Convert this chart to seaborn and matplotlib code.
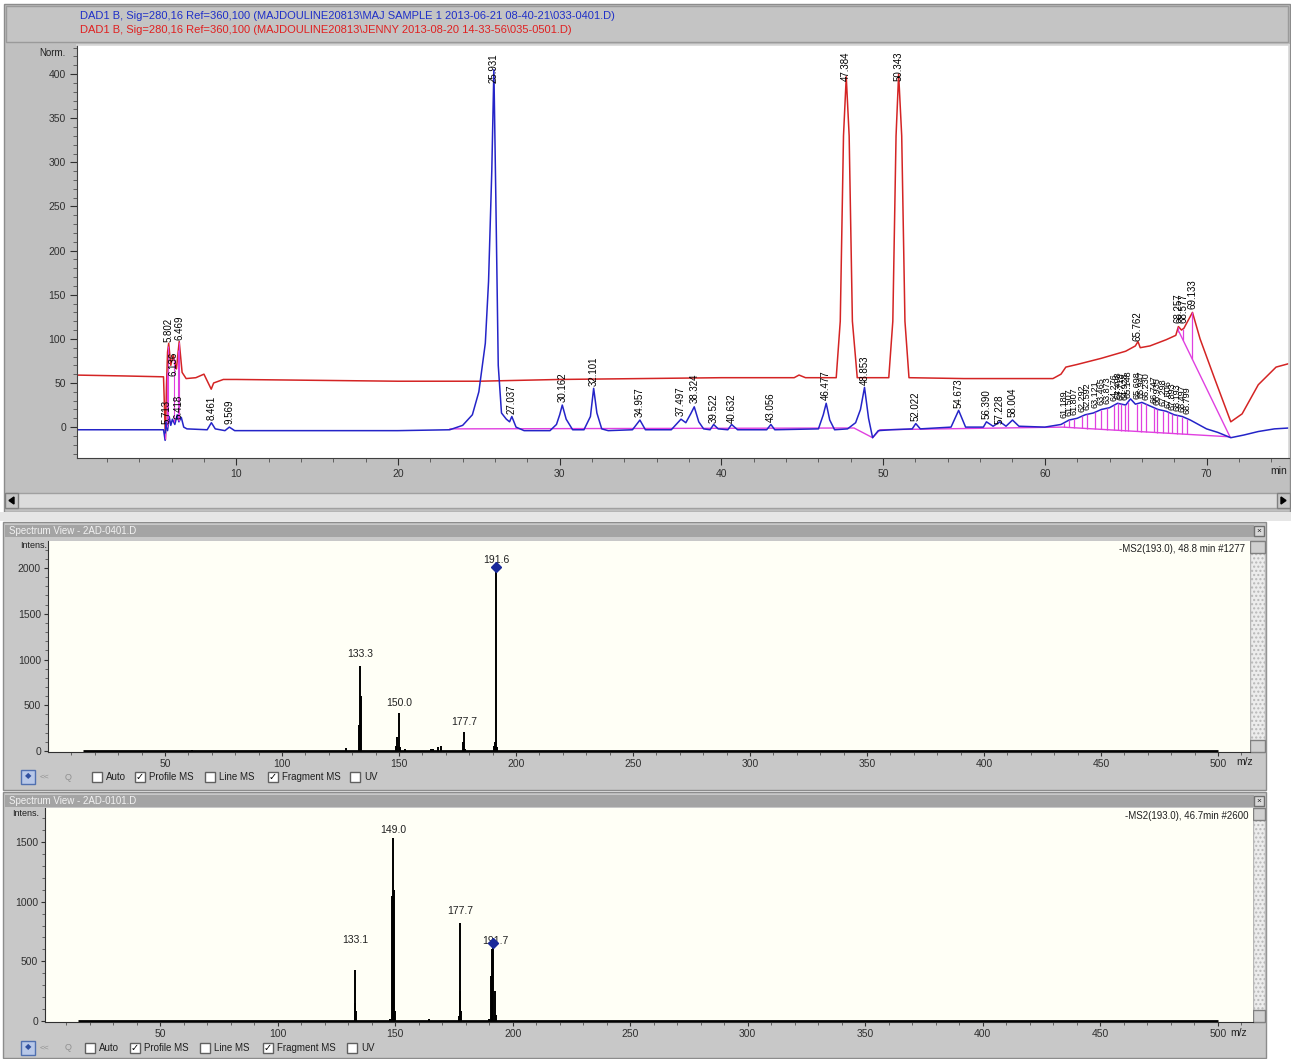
import matplotlib
matplotlib.use("Agg")
import matplotlib.pyplot as plt
import seaborn as sns
import numpy as np
from matplotlib.patches import Rectangle, Polygon

W, H = 1291, 1059

# ---------------- chromatogram (DAD1 B, 280 nm) ----------------
blue_t = [0.0, 5.5, 5.6, 5.65, 5.75, 5.85, 5.95, 6.05, 6.2, 6.35, 6.45, 6.6, 6.75, 6.95, 8.2, 8.46, 8.7,
          9.3, 9.57, 9.9, 15.0, 20.0, 23.2, 24.0, 24.6, 25.0, 25.4, 25.6, 25.8, 25.93, 26.05, 26.2, 26.4,
          26.7, 26.9, 27.04, 27.3, 27.8, 29.4, 29.8, 30.0, 30.16, 30.4, 30.8, 31.5, 31.9, 32.1, 32.3, 32.6,
          33.0, 34.5, 34.96, 35.3, 36.9, 37.2, 37.5, 37.8, 38.1, 38.32, 38.6, 38.9, 39.3, 39.52, 39.8, 40.4,
          40.63, 41.0, 42.8, 43.06, 43.3, 46.0, 46.3, 46.48, 46.7, 47.0, 47.8, 48.3, 48.6, 48.85, 49.1,
          49.35, 49.7, 50.5, 51.8, 52.02, 52.3, 54.2, 54.67, 55.1, 56.2, 56.39, 56.8, 57.23, 57.6, 58.0,
          58.4, 60.0, 61.0, 61.5, 62.0, 62.5, 63.0, 63.5, 64.0, 64.5, 65.0, 65.3, 65.6, 66.0, 66.5, 67.0,
          67.5, 68.0, 68.5, 69.0, 69.5, 70.0, 70.7, 71.5, 72.3, 73.2, 74.2, 75.1]
blue_v = [-3, -3, -15, 6, -4, 12, 2, 9, 3, 14, 6, 11, 0, -2, -3, 5, -2,
          -4, 0, -4, -4, -4, -3, 2, 14, 40, 95, 165, 290, 405, 260, 70, 16,
          9, 6, 12, 0, -4, -4, 3, 14, 25, 9, -3, -3, 12, 44, 16, -2,
          -4, -3, 8, -3, -3, 3, 9, 5, 15, 23, 6, -2, -3, 3, -2, -3,
          3, -3, -3, 3, -3, -2, 14, 27, 8, -3, -2, 5, 20, 45, 10,
          -12, -4, -3, -2, 4, -2, 0, 19, 0, 0, 6, 1, 6, 1, 8,
          1, 0, 3, 8, 10, 14, 16, 20, 22, 27, 25, 32, 26, 28, 24, 20,
          18, 14, 12, 8, 3, -2, -6, -12, -9, -5, -2, -1]

red_t = [0.0, 3.0, 5.5, 5.62, 5.68, 5.75, 5.82, 5.95, 6.1, 6.3, 6.47, 6.65, 6.9, 7.5, 8.0, 8.45, 8.6,
         9.2, 10.0, 15.0, 20.0, 25.0, 30.0, 35.0, 40.0, 44.5, 44.8, 45.2, 47.1, 47.35, 47.55, 47.72,
         47.9, 48.1, 48.4, 50.35, 50.6, 50.8, 50.96, 51.15, 51.35, 51.6, 55.0, 60.5, 61.0, 61.3, 62.0,
         63.5, 65.0, 65.6, 65.76, 65.9, 66.5, 67.5, 68.1, 68.26, 68.45, 68.6, 69.13, 69.6, 70.5, 71.5,
         72.2, 73.2, 74.3, 75.1]
red_v = [59, 58, 57, -14, 45, 85, 95, 70, 82, 66, 97, 62, 55, 56, 60, 43, 50,
         54, 54, 53, 52, 52, 54, 55, 56, 56, 59, 56, 56, 120, 330, 397,
         330, 120, 56, 56, 120, 330, 400, 330, 120, 56, 55, 55, 60, 68, 71,
         78, 86, 92, 97, 90, 92, 99, 104, 114, 110, 112, 130, 100, 55, 6,
         15, 48, 68, 72]

# integration baselines (magenta)
mag_t = [23.2, 48.2, 49.35, 49.8, 61.1, 71.45]
mag_v = [-2, -1, -12, -3, 0, -11]
mag2_t = [68.3, 71.45]
mag2_v = [108, -11]

# peak labels: retention time text, position, base of label
blue_lbl = ["5.713", "6.418", "8.461", "9.569", "27.037", "30.162", "32.101", "34.957", "37.497",
            "38.324", "39.522", "40.632", "43.056", "46.477", "48.853", "52.022", "54.673",
            "56.390", "57.228", "58.004"]
blue_lbl_t = [5.71, 6.42, 8.46, 9.57, 27.04, 30.16, 32.10, 34.96, 37.50, 38.32, 39.52, 40.63,
              43.06, 46.48, 48.85, 52.02, 54.67, 56.39, 57.23, 58.00]
blue_lbl_y = [3, 9, 8, 4, 15, 29, 47, 11, 13, 27, 5, 5, 6, 31, 48, 7, 22, 9, 4, 11]

top_lbl = ["25.931", "47.384", "50.343", "5.802", "6.469", "6.136", "65.762", "68.257", "68.577", "69.133"]
top_lbl_t = [25.93, 47.72, 50.96, 5.80, 6.47, 6.14, 65.76, 68.26, 68.55, 69.13]
top_lbl_y = [390, 392, 392, 96, 99, 58, 98, 118, 118, 134]

hump_t = [61.189, 61.507, 61.807, 62.292, 62.592, 63.121, 63.465, 63.873, 64.276, 64.498, 64.718,
          64.928, 65.148, 65.698, 65.947, 66.230, 66.747, 66.935, 67.298, 67.606, 67.893, 68.193,
          68.497, 68.799]

# ---------------- MS2 spectra ----------------
mz1 = [61.5, 127.5, 132.9, 133.3, 133.6, 148.6, 149.2, 150.0, 150.5, 152.5, 163.5, 164.5, 166.5,
       168.0, 177.4, 177.7, 178.2, 190.5, 191.0, 191.6, 192.1]
int1 = [10, 30, 280, 930, 600, 60, 150, 415, 40, 25, 20, 25, 50, 60, 100, 210, 25, 60, 100, 2015, 40]
lbl1 = ["133.3", "150.0", "177.7", "191.6"]
lbl1_mz = [133.3, 150.3, 177.7, 191.8]
lbl1_y = [1010, 470, 260, 2035]

mz2 = [132.8, 133.1, 133.4, 148.0, 148.6, 149.0, 149.4, 149.8, 164.5, 177.0, 177.4, 177.7, 178.1,
       189.8, 190.8, 191.3, 191.7, 192.3, 192.7]
int2 = [150, 430, 80, 20, 1050, 1530, 1100, 80, 15, 40, 250, 825, 80, 20, 380, 600, 650, 250, 50]
lbl2 = ["133.1", "149.0", "177.7", "191.7"]
lbl2_mz = [133.1, 149.0, 177.7, 192.5]
lbl2_y = [640, 1555, 880, 625]

sns.set_theme(style="white")
plt.rcParams["font.family"] = ["Liberation Sans", "DejaVu Sans"]

fig = plt.figure(figsize=(W / 100, H / 100), dpi=100, facecolor="white")


def box(x0, y0, x1, y1):
    return [x0 / W, 1 - y1 / H, (x1 - x0) / W, (y1 - y0) / H]


# background "window" chrome drawn in pixel coordinates
bg = fig.add_axes([0, 0, 1, 1], zorder=0)
bg.set_xlim(0, W)
bg.set_ylim(H, 0)
bg.axis("off")


def rect(x, y, w, h, fc, ec="none", lw=1, **kw):
    bg.add_patch(Rectangle((x, y), w, h, facecolor=fc, edgecolor=ec, lw=lw, **kw))


GRAY = "#c0c0c0"
rect(4, 4, 1286, 508, GRAY, "#8c8c8c")
rect(6, 6, 1282, 36, "#c4c4c4", "#9a9a9a")
bg.text(80, 16, "DAD1 B, Sig=280,16 Ref=360,100 (MAJDOULINE20813\\MAJ SAMPLE 1 2013-06-21 08-40-21\\033-0401.D)",
        color="#1f2fc8", fontsize=8, va="center")
bg.text(80, 30, "DAD1 B, Sig=280,16 Ref=360,100 (MAJDOULINE20813\\JENNY 2013-08-20 14-33-56\\035-0501.D)",
        color="#e02020", fontsize=8, va="center")
bg.text(66, 53, "Norm.", fontsize=7, ha="right", va="center", color="#202020")
bg.text(1270, 471, "min", fontsize=7.5, ha="left", va="center", color="#202020")

# horizontal scrollbar
rect(5, 493, 1285, 15, "#dcdcdc", "#a0a0a0")
for xb in (5, 1277):
    rect(xb, 493, 13, 15, "#c8c8c8", "#808080")
bg.add_patch(Polygon([[14, 497], [14, 504], [9, 500.5]], color="black"))
bg.add_patch(Polygon([[1281, 497], [1281, 504], [1286, 500.5]], color="black"))
rect(0, 512, W, 9, "#e6e6e6")

# spectrum panels
PANEL = "#c8c8c8"
for (y0, y1, title) in [(522, 790, "Spectrum View - 2AD-0401.D"), (792, 1058, "Spectrum View - 2AD-0101.D")]:
    rect(3, y0, 1263, y1 - y0, PANEL, "#8c8c8c")
    rect(5, y0 + 3, 1249, 12, "#a4a4a4")
    bg.text(9, y0 + 9, title, fontsize=7, color="#f2f2f2", va="center")
    rect(1254, y0 + 4, 10, 10, "#d8d8d8", "#707070")
    bg.text(1259, y0 + 9, "×", fontsize=6, ha="center", va="center")

# vertical scrollbars next to spectra
for (y0, y1, xs) in [(541, 752, 1250), (808, 1022, 1253)]:
    rect(xs, y0, 1265 - xs, y1 - y0, "#ececec", "#b8b8b8", hatch="....")
    rect(xs, y0, 1265 - xs, 12, "#d0d0d0", "#808080")
    rect(xs, y1 - 12, 1265 - xs, 12, "#d0d0d0", "#808080")

# toolbars with check boxes
for (yt, xs) in [(777, [92, 135, 205, 268, 350]), (1048, [85, 130, 200, 263, 347])]:
    rect(21, yt - 7, 14, 14, "#b8c8e8", "#5070b0")
    bg.text(28, yt, "\u25c6", fontsize=6, ha="center", va="center", color="#3050a0")
    bg.text(44, yt, "<<", fontsize=6, ha="center", va="center", color="#909090")
    bg.text(68, yt, "Q", fontsize=6.5, ha="center", va="center", color="#909090")
    names = ["Auto", "Profile MS", "Line MS", "Fragment MS", "UV"]
    checked = [False, True, False, True, False]
    for xc, nm, ck in zip(xs, names, checked):
        rect(xc, yt - 5, 10, 10, "white", "#606060")
        if ck:
            bg.text(xc + 5, yt, "\u2713", fontsize=7, ha="center", va="center", color="black")
        bg.text(xc + 14, yt, nm, fontsize=7, va="center", color="#202020")

# ---------------- top chromatogram axes ----------------
ax = fig.add_axes(box(77, 45, 1289, 458), zorder=2)
ax.set_facecolor("white")
sns.lineplot(x=mag_t, y=mag_v, ax=ax, color="#e040e0", lw=1, sort=False, estimator=None)
sns.lineplot(x=mag2_t, y=mag2_v, ax=ax, color="#e040e0", lw=1, sort=False, estimator=None)
sns.lineplot(x=red_t, y=red_v, ax=ax, color="#d42424", lw=1.1, sort=False, estimator=None)
sns.lineplot(x=blue_t, y=blue_v, ax=ax, color="#2424c8", lw=1.1, sort=False, estimator=None)

# drop lines of the integrated hump
hump_bot = np.interp(hump_t, mag_t[-2:], mag_v[-2:])
hump_top = np.interp(hump_t, blue_t, blue_v)
ax.vlines(hump_t, hump_bot, hump_top, color="#e040e0", lw=0.9)
red_drop_t = top_lbl_t[-3:]
ax.vlines(red_drop_t, np.interp(red_drop_t, mag2_t, mag2_v), np.interp(red_drop_t, red_t, red_v),
          color="#e040e0", lw=0.9)
early_t = [5.62, 5.71, 5.80, 6.14, 6.42, 6.47]
ax.vlines(early_t, np.interp(early_t, blue_t, blue_v), np.interp(early_t, red_t, red_v),
          color="#e040e0", lw=0.8)

for s, t, y in zip(blue_lbl, blue_lbl_t, blue_lbl_y):
    ax.text(t, y, s, rotation=90, ha="center", va="bottom", fontsize=7, color="black", clip_on=True)
for s, t, y in zip(top_lbl, top_lbl_t, top_lbl_y):
    ax.text(t, y, s, rotation=90, ha="center", va="bottom", fontsize=7, color="black", clip_on=True)
for t, y in zip(hump_t, hump_top):
    ax.text(t, y + 5, f"{t:.3f}", rotation=90, ha="center", va="bottom", fontsize=6.5,
            color="black", clip_on=True)

ax.set_xlim(0.15, 75.1)
ax.set_ylim(-35, 433)
ax.set_xticks(np.arange(10, 71, 10))
ax.set_xticks(np.arange(2, 75, 2), minor=True)
ax.set_yticks(np.arange(0, 401, 50))
ax.set_yticks(np.arange(-30, 431, 10), minor=True)
ax.set_yticklabels([str(v) for v in range(0, 401, 50)])
ax.tick_params(axis="both", which="major", direction="out", length=5, width=0.8, labelsize=7.5,
               colors="#303030", pad=3, left=True, bottom=True)
ax.tick_params(axis="both", which="minor", direction="out", length=3, width=0.6, colors="#505050",
               left=True, bottom=True)
for side in ["top", "right"]:
    ax.spines[side].set_color("#d8d8d8")
for side in ["left", "bottom"]:
    ax.spines[side].set_color("#404040")
    ax.spines[side].set_linewidth(0.8)
ax.set_xlabel("")
ax.set_ylabel("")


# ---------------- spectrum panels ----------------
def spectrum(rect_px, mz, inten, lbls, lbl_mz, lbl_y, xlim, ylim, yticks, info, mark_idx):
    a = fig.add_axes(box(*rect_px), zorder=2)
    a.set_facecolor("#fffff6")
    a.hlines(0, 15, 500, color="black", lw=2)
    a.vlines(mz, 0, inten, color="black", lw=1.4)
    a.plot([mz[mark_idx]], [inten[mark_idx]], marker="D", ms=5, color="#1a2a9a", zorder=5)
    for s, m, y in zip(lbls, lbl_mz, lbl_y):
        a.text(m, y, s, ha="center", va="bottom", fontsize=7.5, color="#202020")
    a.text(0.996, 0.985, info, transform=a.transAxes, ha="right", va="top", fontsize=7, color="#202020")
    a.set_xlim(*xlim)
    a.set_ylim(*ylim)
    a.set_xticks(np.arange(50, 501, 50))
    a.set_xticks(np.arange(10, 511, 10), minor=True)
    a.set_yticks(yticks)
    a.set_yticks(np.arange(0, ylim[1], 100), minor=True)
    a.set_yticklabels([str(v) for v in yticks])
    a.tick_params(axis="both", which="major", direction="out", length=3, width=0.8, labelsize=7.5,
                  colors="#303030", pad=2, left=True, bottom=True)
    a.tick_params(axis="both", which="minor", direction="out", length=2, width=0.6, colors="#505050",
                  left=True, bottom=True)
    for side in ["top", "right"]:
        a.spines[side].set_visible(False)
    for side in ["left", "bottom"]:
        a.spines[side].set_color("#303030")
        a.spines[side].set_linewidth(0.8)
    return a


ax1 = spectrum((48, 541, 1250, 752), mz1, int1, lbl1, lbl1_mz, lbl1_y, (0, 513.7), (-10, 2295),
               [0, 500, 1000, 1500, 2000], "-MS2(193.0), 48.8 min #1277", 19)
ax2 = spectrum((45, 808, 1253, 1022), mz2, int2, lbl2, lbl2_mz, lbl2_y, (1.0, 515.0), (-8, 1785),
               [0, 500, 1000, 1500], "-MS2(193.0), 46.7min #2600", 16)
bg.text(20, 546, "Intens.", fontsize=6.5, color="#202020", va="center")
bg.text(12, 813, "Intens.", fontsize=6.5, color="#202020", va="center")
bg.text(1236, 762, "m/z", fontsize=7.5, color="#202020", va="center")
bg.text(1230, 1033, "m/z", fontsize=7.5, color="#202020", va="center")

fig.savefig("out.png", dpi=100, facecolor="white")
